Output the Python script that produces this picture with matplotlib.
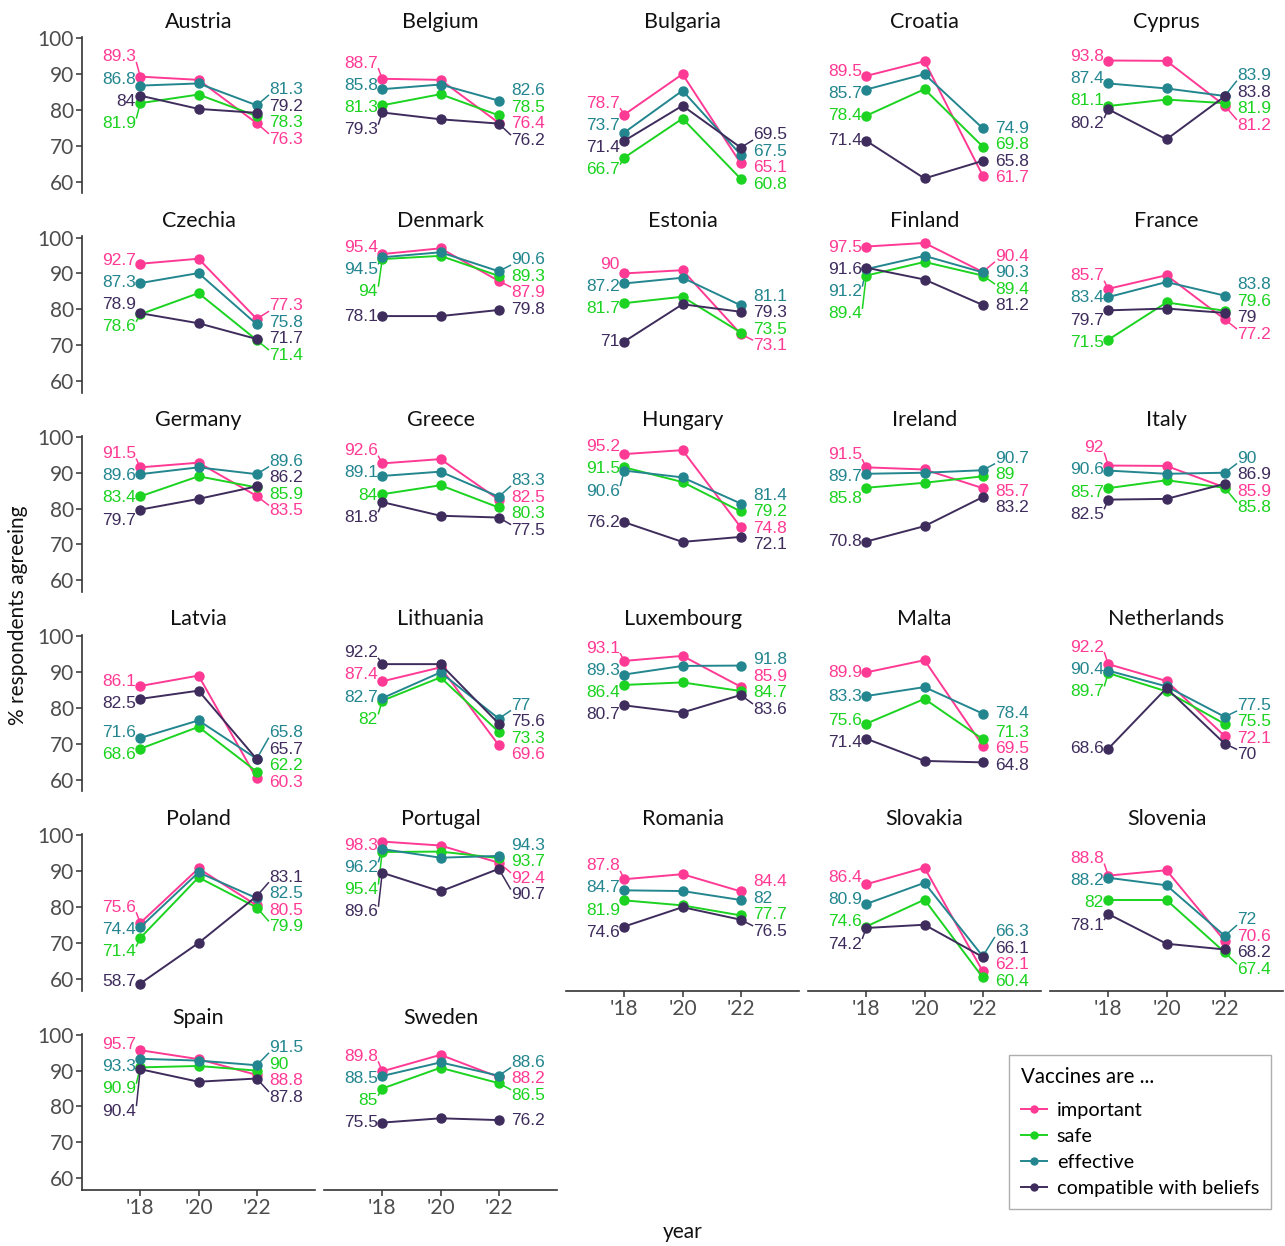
import numpy as np
import matplotlib
matplotlib.use("Agg")
import matplotlib.pyplot as plt
from matplotlib.lines import Line2D

# ------------------------------------------------------------------ #
#                               DATA                                 #
# ------------------------------------------------------------------ #
YEARS = [2018, 2020, 2022]
YEAR_LABELS = ["'18", "'20", "'22"]

COUNTRIES = ["Austria", "Belgium", "Bulgaria", "Croatia", "Cyprus",
             "Czechia", "Denmark", "Estonia", "Finland", "France",
             "Germany", "Greece", "Hungary", "Ireland", "Italy",
             "Latvia", "Lithuania", "Luxembourg", "Malta", "Netherlands",
             "Poland", "Portugal", "Romania", "Slovakia", "Slovenia",
             "Spain", "Sweden"]

IMPORTANT = [[89.3, 88.4, 76.3], [88.7, 88.4, 76.4], [78.7, 90.0, 65.1],
             [89.5, 93.6, 61.7], [93.8, 93.7, 81.2], [92.7, 94.1, 77.3],
             [95.4, 97.0, 87.9], [90.0, 90.9, 73.1], [97.5, 98.5, 90.4],
             [85.7, 89.5, 77.2], [91.5, 92.8, 83.5], [92.6, 93.8, 82.5],
             [95.2, 96.3, 74.8], [91.5, 90.9, 85.7], [92.0, 91.9, 85.9],
             [86.1, 89.0, 60.3], [87.4, 91.3, 69.6], [93.1, 94.5, 85.9],
             [89.9, 93.3, 69.5], [92.2, 87.5, 72.1], [75.6, 90.8, 80.5],
             [98.3, 97.2, 92.4], [87.8, 89.2, 84.4], [86.4, 91.0, 62.1],
             [88.8, 90.3, 70.6], [95.7, 93.2, 88.8], [89.8, 94.4, 88.2]]

SAFE = [[81.9, 84.3, 78.3], [81.3, 84.4, 78.5], [66.7, 77.6, 60.8],
        [78.4, 85.8, 69.8], [81.1, 82.9, 81.9], [78.6, 84.5, 71.4],
        [94.0, 94.9, 89.3], [81.7, 83.5, 73.5], [89.4, 93.2, 89.4],
        [71.5, 81.9, 79.6], [83.4, 89.0, 85.9], [84.0, 86.5, 80.3],
        [91.5, 87.4, 79.2], [85.8, 87.2, 89.0], [85.7, 87.9, 85.8],
        [68.6, 74.7, 62.2], [82.0, 88.5, 73.3], [86.4, 87.1, 84.7],
        [75.6, 82.5, 71.3], [89.7, 84.6, 75.5], [71.4, 88.3, 79.9],
        [95.4, 95.5, 93.7], [81.9, 80.5, 77.7], [74.6, 82.1, 60.4],
        [82.0, 82.0, 67.4], [90.9, 91.3, 90.0], [85.0, 90.8, 86.5]]

EFFECTIVE = [[86.8, 87.4, 81.3], [85.8, 87.1, 82.6], [73.7, 85.4, 67.5],
             [85.7, 90.0, 74.9], [87.4, 86.0, 83.9], [87.3, 90.1, 75.8],
             [94.5, 95.9, 90.6], [87.2, 88.8, 81.1], [91.2, 94.9, 90.3],
             [83.4, 87.6, 83.8], [89.6, 91.5, 89.6], [89.1, 90.3, 83.3],
             [90.6, 88.7, 81.4], [89.7, 90.0, 90.7], [90.6, 89.7, 90.0],
             [71.6, 76.5, 65.8], [82.7, 89.9, 77.0], [89.3, 91.7, 91.8],
             [83.3, 85.8, 78.4], [90.4, 86.0, 77.5], [74.4, 89.7, 82.5],
             [96.2, 93.8, 94.3], [84.7, 84.5, 82.0], [80.9, 86.8, 66.3],
             [88.2, 86.1, 72.0], [93.3, 92.8, 91.5], [88.5, 92.3, 88.6]]

BELIEFS = [[84.0, 80.3, 79.2], [79.3, 77.4, 76.2], [71.4, 81.2, 69.5],
           [71.4, 60.9, 65.8], [80.2, 71.8, 83.8], [78.9, 76.1, 71.7],
           [78.1, 78.1, 79.8], [71.0, 81.4, 79.3], [91.6, 88.3, 81.2],
           [79.7, 80.2, 79.0], [79.7, 82.7, 86.2], [81.8, 78.0, 77.5],
           [76.2, 70.7, 72.1], [70.8, 75.1, 83.2], [82.5, 82.7, 86.9],
           [82.5, 84.8, 65.7], [92.2, 92.2, 75.6], [80.7, 78.7, 83.6],
           [71.4, 65.2, 64.8], [68.6, 85.5, 70.0], [58.7, 70.0, 83.1],
           [89.6, 84.4, 90.7], [74.6, 80.0, 76.5], [74.2, 75.1, 66.1],
           [78.1, 69.8, 68.2], [90.4, 86.9, 87.8], [75.5, 76.7, 76.2]]

SERIES_NAMES = ["important", "safe", "effective", "compatible with beliefs"]
SERIES_DATA = [IMPORTANT, SAFE, EFFECTIVE, BELIEFS]
COLORS = ["#FF3A94", "#1BD320", "#23868F", "#3E2C5C"]

# ------------------------------------------------------------------ #
#                             LAYOUT                                 #
# ------------------------------------------------------------------ #
W, H = 1285, 1246
NCOL = 5
LEFT0, COL_STEP, AX_W = 82, 242, 233
TOP0, ROW_STEP, AX_H = 37.2, 199.3, 156.3
YLIM = (56.7, 100.3)
XLIM = (2016, 2024)
AXIS_COL = "#333333"
TICK_COL = "#4D4D4D"
LABEL_FONT = ["Liberation Sans Narrow", "Liberation Sans", "DejaVu Sans"]

plt.rcParams["font.family"] = ["Lato", "DejaVu Sans"]


def spread(vals, gap, lo, hi):
    """very small 1-d label repel"""
    vals = np.asarray(vals, float)
    order = np.argsort(vals)
    pos = vals[order].copy()
    for _ in range(300):
        for i in range(1, len(pos)):
            d = pos[i] - pos[i - 1]
            if d < gap:
                s = (gap - d) / 2
                pos[i] += s
                pos[i - 1] -= s
        pos = np.clip(pos, lo, hi)
    out = np.empty_like(pos)
    out[order] = pos
    return out


fig = plt.figure(figsize=(W / 100, H / 100), dpi=100)

n = len(COUNTRIES)
for i, country in enumerate(COUNTRIES):
    row, col = divmod(i, NCOL)
    left = LEFT0 + COL_STEP * col
    top = TOP0 + ROW_STEP * row
    ax = fig.add_axes([left / W, 1 - (top + AX_H) / H, AX_W / W, AX_H / H])
    ax.set_xlim(*XLIM)
    ax.set_ylim(*YLIM)
    ax.patch.set_alpha(0)

    for data, color in zip(SERIES_DATA, COLORS):
        ax.plot(YEARS, data[i], color=color, lw=1.4, marker="o",
                markersize=6.5, zorder=3)

    # value labels at first and last year
    for side in ("left", "right"):
        k = 0 if side == "left" else 2
        vals = [d[i][k] for d in SERIES_DATA]
        gap = 6.2 if side == "left" else 4.6
        pos = spread(vals, gap, 59.3, 97.3)
        for v, p, color in zip(vals, pos, COLORS):
            if side == "left":
                tx, ha = YEARS[0] - 0.15, "right"
            else:
                tx, ha = YEARS[2] + 0.42, "left"
            ax.text(tx, p, f"{v:g}", color=color, ha=ha, va="center",
                    fontsize=12.5, family=LABEL_FONT, zorder=4)
            if abs(p - v) > 3:
                ey = p + np.sign(v - p) * 1.6
                ex = tx + (0.02 if side == "left" else -0.02)
                ax.plot([YEARS[k], ex], [v, ey], color=color, lw=1.1,
                        zorder=2)

    ax.text(0.5, 1.10, country, transform=ax.transAxes, ha="center",
            va="center", fontsize=15.5, color="#111111")

    for s in ("top", "right"):
        ax.spines[s].set_visible(False)

    if col == 0:
        ax.spines["left"].set_color(AXIS_COL)
        ax.spines["left"].set_linewidth(1.2)
        ax.set_yticks([60, 70, 80, 90, 100])
        ax.tick_params(axis="y", labelsize=15, colors=AXIS_COL,
                       labelcolor=TICK_COL, length=4, width=1.1, pad=2)
    else:
        ax.spines["left"].set_visible(False)
        ax.set_yticks([])

    if i + NCOL >= n:
        ax.spines["bottom"].set_color(AXIS_COL)
        ax.spines["bottom"].set_linewidth(1.2)
        ax.set_xticks(YEARS)
        ax.set_xticklabels(YEAR_LABELS)
        ax.tick_params(axis="x", labelsize=15, colors=AXIS_COL,
                       labelcolor=TICK_COL, length=4, width=1.1, pad=2)
    else:
        ax.spines["bottom"].set_visible(False)
        ax.set_xticks([])

# axis titles
fig.text(18 / W, 1 - 615 / H, "% respondents agreeing", rotation=90,
         ha="center", va="center", fontsize=15, color="#111111")
fig.text(683 / W, 1 - 1232 / H, "year", ha="center", va="center",
         fontsize=15, color="#111111")

# legend
handles = [Line2D([0], [0], color=c, lw=1.4, marker="o", markersize=5)
           for c in COLORS]
leg = fig.legend(handles, SERIES_NAMES, title="Vaccines are ...",
                 loc="upper right", bbox_to_anchor=(1271 / W, 1 - 1055 / H),
                 borderaxespad=0, frameon=True, fancybox=False,
                 edgecolor="#9a9a9a", fontsize=14.3, title_fontsize=14.8,
                 alignment="left", handlelength=1.3, handletextpad=0.5,
                 labelspacing=0.45, borderpad=0.6)
leg.get_frame().set_linewidth(1.0)
# a bit more room between legend title and the entries
leg._legend_box.sep = 11

fig.savefig("out.png", dpi=100)
